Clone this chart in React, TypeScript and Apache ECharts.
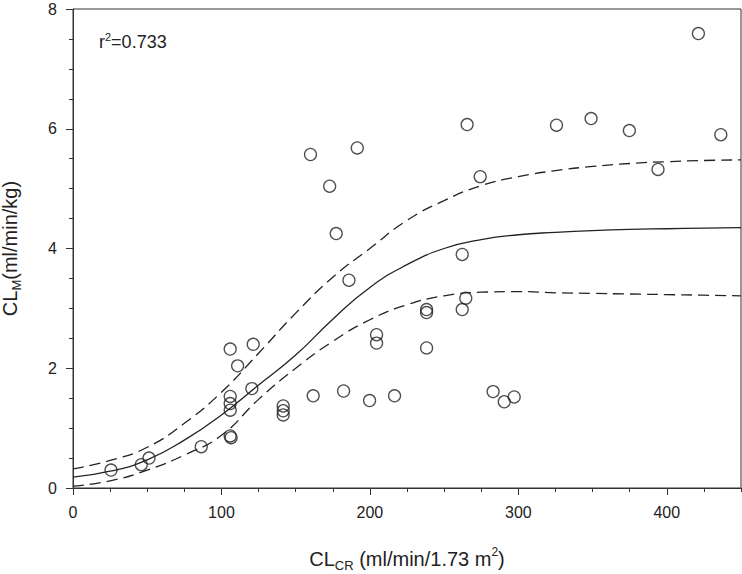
import React, { useEffect, useRef } from "react";
import * as echarts from "echarts";

// Observed data: CLCR (x) and CLM (y)
const pointX = [25.6, 46, 51.2, 86.4, 105.9, 121.4, 110.9, 105.9, 105.9, 105.9, 120.5, 105.9, 106.5, 141.6, 141.6, 141.6, 161.8, 182.3, 199.8, 204.5, 204.5, 216.6, 238.2, 238.2, 238.2, 262.2, 264.6, 262.2, 283, 290.5, 297.2, 160, 172.9, 191.5, 177.3, 185.9, 265.5, 274.3, 325.7, 349, 374.8, 394.1, 421.3, 436.4];
const pointY = [0.30, 0.39, 0.50, 0.69, 2.32, 2.40, 2.04, 1.53, 1.41, 1.30, 1.66, 0.87, 0.84, 1.37, 1.29, 1.22, 1.54, 1.62, 1.46, 2.56, 2.42, 1.54, 2.98, 2.93, 2.34, 2.98, 3.17, 3.90, 1.61, 1.44, 1.52, 5.57, 5.04, 5.68, 4.25, 3.47, 6.07, 5.20, 6.06, 6.17, 5.97, 5.32, 7.59, 5.90];

// Fitted curve (solid) and bands (dashed)
const curveX = [0, 25, 50, 75, 100, 125, 150, 175, 200, 225, 250, 275, 300, 325, 350, 375, 400, 425, 450];
const fitY = [0.18, 0.28, 0.47, 0.80, 1.22, 1.72, 2.22, 2.82, 3.35, 3.73, 4.00, 4.15, 4.23, 4.27, 4.30, 4.32, 4.33, 4.34, 4.35];
const upperY = [0.32, 0.46, 0.68, 1.08, 1.60, 2.25, 2.92, 3.52, 4.00, 4.47, 4.80, 5.05, 5.20, 5.30, 5.37, 5.42, 5.45, 5.47, 5.48];
const lowerY = [0.03, 0.12, 0.30, 0.55, 0.88, 1.48, 2.00, 2.45, 2.81, 3.06, 3.21, 3.27, 3.28, 3.26, 3.25, 3.24, 3.23, 3.22, 3.21];

const xTicks = [0, 100, 200, 300, 400];
const yTicks = [0, 2, 4, 6, 8];
const r2Text = "0.733";

const FONT = "'Liberation Sans', Arial, sans-serif";
const INK = "#222";

export default function App() {
  const ref = useRef<HTMLDivElement>(null);
  useEffect(() => {
    document.body.style.margin = "0";
    if (!ref.current) return;
    const chart = echarts.init(ref.current, null, { renderer: "svg" });
    const pts = pointX.map((x, i) => [x, pointY[i]]);
    const mk = (ys: number[]) => curveX.map((x, i) => [x, ys[i]]);
    const titleRich = {
      a: { fontSize: 20, fontFamily: FONT, color: INK, lineHeight: 26 },
      sub: { fontSize: 13, fontFamily: FONT, color: INK, lineHeight: 13, verticalAlign: "bottom" },
      sup: { fontSize: 12, fontFamily: FONT, color: INK, lineHeight: 12, verticalAlign: "top" },
    };
    chart.setOption({
      animation: false,
      grid: {
        left: 73, right: 1, top: 9, bottom: 86,
        containLabel: false, outerBoundsMode: "none",
        show: true, borderColor: "#333", borderWidth: 1, backgroundColor: "transparent",
      },
      xAxis: [
        {
          type: "value", min: 0, max: 450, interval: 100,
          axisLine: { show: true, lineStyle: { color: "#333", width: 1 } },
          axisTick: { show: true, length: 7, lineStyle: { color: "#333" } },
          axisLabel: {
            fontSize: 16, fontFamily: FONT, color: INK, margin: 16, showMaxLabel: false,
            formatter: (v: number) => (xTicks.includes(v) ? String(v) : ""),
          },
          splitLine: { show: false },
          name: "{a|CL}{sub|CR}{a| (ml/min/1.73 m}{sup|2}{a|)}",
          nameLocation: "middle", nameGap: 58,
          nameTextStyle: { rich: titleRich },
        },
        {
          type: "value", min: 0, max: 450, interval: 25, position: "bottom",
          axisLine: { show: false },
          axisTick: { show: true, length: 4, lineStyle: { color: "#333" } },
          axisLabel: { show: false },
          splitLine: { show: false },
        },
      ],
      yAxis: {
        type: "value", min: 0, max: 8, interval: 2,
        axisLine: { show: true, lineStyle: { color: "#333", width: 1 } },
        axisTick: { show: true, length: 7, lineStyle: { color: "#333" } },
        minorTick: { show: true, splitNumber: 4, length: 4, lineStyle: { color: "#333" } },
        axisLabel: {
          fontSize: 16, fontFamily: FONT, color: INK, margin: 16,
          formatter: (v: number) => (yTicks.includes(v) ? String(v) : ""),
        },
        splitLine: { show: false },
        name: "{a|CL}{sub|M}{a|(ml/min/kg)}",
        nameLocation: "middle", nameGap: 50, nameRotate: 90,
        nameTextStyle: { rich: titleRich },
      },
      graphic: [
        {
          type: "text", left: 99, top: 31,
          style: {
            text: "{a|r}{sup|2}{a|=" + r2Text + "}",
            rich: {
              a: { fontSize: 18, fontFamily: FONT, fill: INK, lineHeight: 22 },
              sup: { fontSize: 11, fontFamily: FONT, fill: INK, lineHeight: 11, verticalAlign: "top" },
            },
          },
        },
      ],
      series: [
        {
          type: "line", data: mk(upperY), smooth: true, showSymbol: false, symbol: "none",
          lineStyle: { color: INK, width: 1.3, type: [11, 6] }, z: 2,
        },
        {
          type: "line", data: mk(fitY), smooth: true, showSymbol: false, symbol: "none",
          lineStyle: { color: INK, width: 1.3, type: "solid" }, z: 2,
        },
        {
          type: "line", data: mk(lowerY), smooth: true, showSymbol: false, symbol: "none",
          lineStyle: { color: INK, width: 1.3, type: [11, 6] }, z: 2,
        },
        {
          type: "scatter", data: pts, symbol: "circle", symbolSize: 12,
          itemStyle: { color: "rgba(0,0,0,0)", borderColor: INK, borderWidth: 1.3 }, z: 3,
        },
      ],
    });
    return () => chart.dispose();
  }, []);
  return <div ref={ref} style={{ width: 742, height: 574 }} />;
}
